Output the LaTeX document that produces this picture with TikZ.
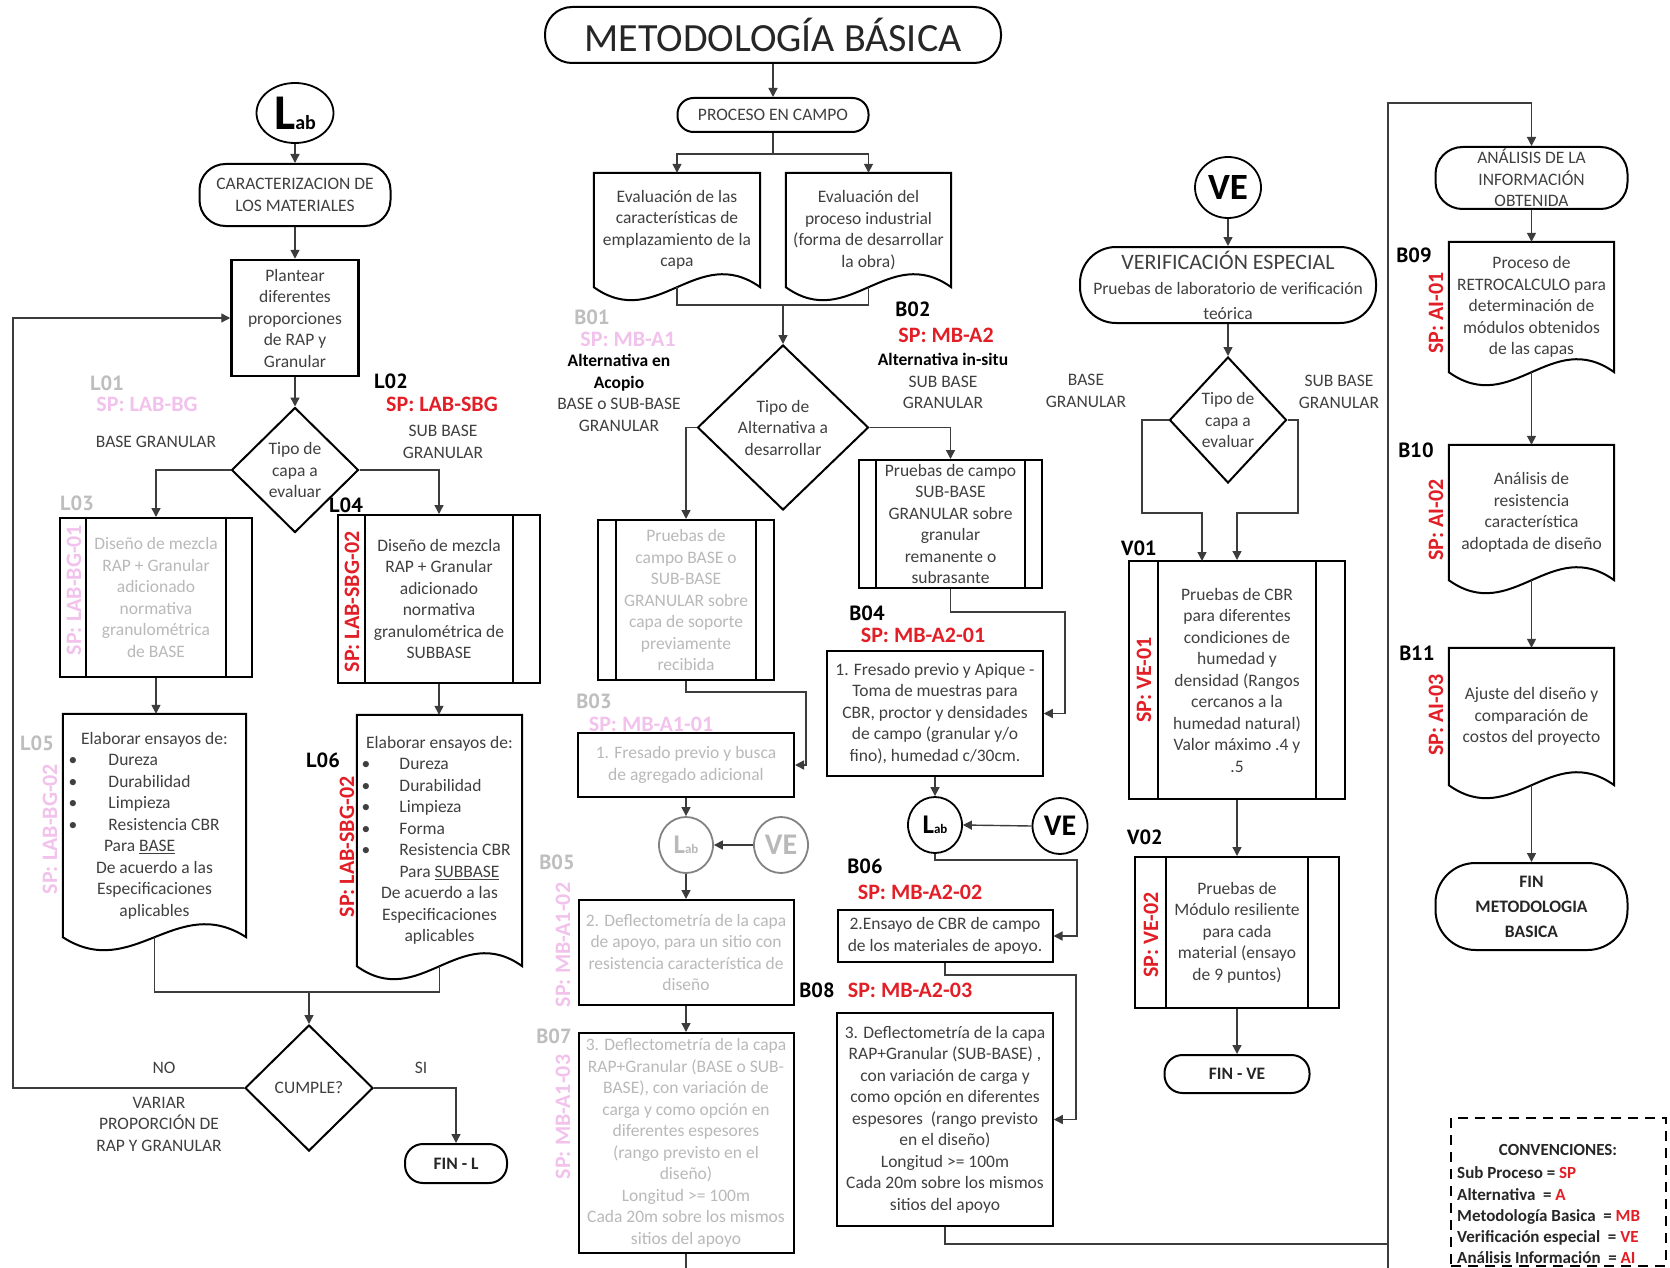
\documentclass[tikz,border=0pt]{standalone}
\usepackage{fontspec}
\setmainfont{Carlito}
\newfontfamily\codefont{PT Sans}
\usetikzlibrary{shapes.geometric,arrows.meta,calc}
\definecolor{textc}{RGB}{64,64,64}
\definecolor{lgtext}{RGB}{185,185,185}
\definecolor{codegray}{RGB}{190,190,190}
\definecolor{pinksp}{RGB}{242,194,236}
\definecolor{redsp}{RGB}{226,30,38}
\definecolor{linec}{RGB}{60,60,60}
\definecolor{circgray}{RGB}{130,130,130}
\newcommand\bodyfont{\fontsize{17.5}{21.5}\selectfont}
\newcommand\spfont{\fontsize{22}{24}\selectfont\bfseries}
\newcommand\cdfont{\codefont\fontsize{20.5}{22}\selectfont\bfseries}
\newcommand\bitem[3]{\hspace*{#1}\makebox[#2][l]{\textbullet}#3\par}
\newcommand\labtext[2]{{\fontsize{#1}{#1}\selectfont\bfseries L}{\fontsize{#2}{#2}\selectfont\bfseries ab}}

\tikzset{
  shapeline/.style={draw=black, line width=2pt},
  box/.style={rectangle, shapeline, inner sep=0pt, align=center, font=\bodyfont, text=textc},
  stadium/.style={box, rounded corners=#1},
  decision/.style={diamond, shapeline, inner sep=0pt, aspect=1, align=center, font=\bodyfont, text=textc},
  conncirc/.style={ellipse, draw=black, line width=1.8pt, inner sep=0pt, text=black},
  subproc/.style={box, append after command={\pgfextra{\draw[shapeline]
      ([xshift=#1]\tikzlastnode.north west) -- ([xshift=#1]\tikzlastnode.south west)
      ([xshift=-#1]\tikzlastnode.north east) -- ([xshift=-#1]\tikzlastnode.south east);}}},
  subproc/.default=27pt,
  docbox/.style={rectangle, inner sep=0pt, align=center, font=\bodyfont, text=textc,
    append after command={\pgfextra{\draw[shapeline]
      (\tikzlastnode.south west) -- (\tikzlastnode.north west) -- (\tikzlastnode.north east) -- (\tikzlastnode.south east)
      .. controls ($(\tikzlastnode.south west)!0.62!(\tikzlastnode.south east)+(0,-45)$)
      and ($(\tikzlastnode.south west)!0.38!(\tikzlastnode.south east)+(0,45)$)
      .. (\tikzlastnode.south west) -- cycle;}}},
  arr/.style={draw=linec, line width=1.4pt, -{Triangle[length=9pt,width=9pt]}},
  ln/.style={draw=linec, line width=1.4pt},
  code/.style={font=\cdfont, inner sep=0pt},
  sptag/.style={font=\spfont, inner sep=0pt},
  lbl/.style={font=\bodyfont, text=textc, align=center, inner sep=0pt},
}

\begin{document}
\begin{tikzpicture}[x=1pt,y=-1pt]
\useasboundingbox (0,0) rectangle (1670,1268);
\fill[white] (0,0) rectangle (1670,1268);

% ================= LEFT COLUMN =================
\node[conncirc, minimum width=77pt, minimum height=60pt] (lab1) at (295,113) {\labtext{50}{20}};
\node[stadium=26pt, minimum width=191pt, minimum height=62pt] (cara) at (295,195) {CARACTERIZACION DE\\LOS MATERIALES};
\node[box, line width=2.5pt, minimum width=127pt, minimum height=116pt] (plant) at (295,318) {Plantear\\diferentes\\proporciones\\de RAP y\\Granular};
\node[decision, minimum width=127pt, minimum height=125pt] (tipo1) at (295,470) {Tipo de\\capa a\\evaluar};
\node[subproc=27pt, minimum width=192pt, minimum height=159pt, text=lgtext] (l03) at (156,597.5) {Diseño de mezcla\\RAP + Granular\\adicionado\\normativa\\granulométrica\\de BASE};
\node[subproc=28pt, minimum width=202pt, minimum height=168pt] (l04) at (439,599) {Diseño de mezcla\\RAP + Granular\\adicionado\\normativa\\granulométrica de\\SUBBASE};
\node[docbox, minimum width=183pt, minimum height=223pt] (l05) at (154.5,825.5) {\begin{minipage}{177pt}
{\centering Elaborar ensayos de:\par}
\raggedright
\bitem{2.5pt}{40pt}{Dureza}
\bitem{2.5pt}{40pt}{Durabilidad}
\bitem{2.5pt}{40pt}{Limpieza}
\bitem{2.5pt}{40pt}{Resistencia CBR}
\hspace*{38pt}Para \underline{BASE}\par
\centering De acuerdo a las\par Especificaciones\par aplicables\par
\end{minipage}};
\node[docbox, minimum width=165pt, minimum height=251pt] (l06) at (439.5,840.5) {\begin{minipage}{161pt}
{\centering Elaborar ensayos de:\par}
\raggedright
\bitem{2.5pt}{38pt}{Dureza}
\bitem{2.5pt}{38pt}{Durabilidad}
\bitem{2.5pt}{38pt}{Limpieza}
\bitem{2.5pt}{38pt}{Forma}
\bitem{2.5pt}{38pt}{Resistencia CBR}
\hspace*{40.5pt}Para \underline{SUBBASE}\par
\centering De acuerdo a las\par Especificaciones\par aplicables\par
\end{minipage}};
\coordinate (jL) at (309,992);
\node[decision, minimum width=128pt, minimum height=126pt] (cumple) at (309,1088) {CUMPLE?};
\node[stadium=18pt, minimum width=102pt, minimum height=39pt, font=\bodyfont\bfseries, text=black!85] (finl) at (456,1163.5) {FIN - L};
\coordinate (loopc) at (13,318);

\node[code, text=codegray] (tL01) at (107,383) {L01};
\node[sptag, text=pinksp] (sLABBG) at (147,404) {SP: LAB-BG};
\node[code] (tL02) at (391,381) {L02};
\node[sptag, text=redsp] (sLABSBG) at (442,404) {SP: LAB-SBG};
\node[lbl] (tBG1) at (156,442) {BASE GRANULAR};
\node[lbl] (tSBG1) at (443,442) {SUB BASE\\GRANULAR};
\node[code, text=codegray] (tL03) at (77,503) {L03};
\node[code] (tL04) at (346,505) {L04};
\node[code, text=codegray] (tL05) at (37,743) {L05};
\node[code] (tL06) at (323,760) {L06};
\node[sptag, text=pinksp, rotate=90] (sL03) at (74,590) {SP: LAB-BG-01};
\node[sptag, text=redsp, rotate=90] (sL04) at (352,602) {SP: LAB-SBG-02};
\node[sptag, text=pinksp, rotate=90] (sL05) at (50,829) {SP: LAB-BG-02};
\node[sptag, text=redsp, rotate=90] (sL06) at (347,847) {SP: LAB-SBG-02};
\node[lbl] (tNO) at (164,1068) {NO};
\node[lbl] (tSI) at (421,1068) {SI};
\node[lbl] (tvar) at (159,1124) {VARIAR\\PROPORCIÓN DE\\RAP Y GRANULAR};

\draw[arr] (lab1.south) -- (cara.north);
\draw[arr] (cara.south) -- (plant.north);
\draw[arr] (plant.south) -- (tipo1.north);
\draw[arr] (tipo1.west) -| (l03.north);
\draw[arr] (tipo1.east) -| (l04.north);
\draw[arr] (l03.south) -- (l03.south |- l05.north);
\draw[arr] (l04.south) -- (l04.south |- l06.north);
\draw[ln] (l05.south) |- (jL) -| (l06.south);
\draw[arr] (jL) -- (cumple.north);
\draw[arr] (cumple.west) -| (loopc) |- (plant.west);
\draw[arr] (cumple.east) -| (finl.north);

% ================= MIDDLE COLUMN =================
\node[stadium=27pt, minimum width=456pt, minimum height=56pt, font=\fontsize{40}{44}\selectfont, text=black!85] (title) at (773,35) {METODOLOGÍA BÁSICA};
\node[stadium=16pt, minimum width=191pt, minimum height=34pt] (proc) at (773,115) {PROCESO EN CAMPO};
\coordinate (split) at (773,154);
\node[docbox, minimum width=166pt, minimum height=114pt] (dev1) at (677,230) {Evaluación de las\\características de\\emplazamiento de la\\capa};
\node[docbox, minimum width=165pt, minimum height=114pt] (dev2) at (868.5,230) {Evaluación del\\proceso industrial\\(forma de desarrollar\\la obra)};
\coordinate (jM) at (783,305);
\node[decision, minimum width=171pt, minimum height=165pt] (tipo2) at (783,427.5) {Tipo de\\Alternativa a\\desarrollar};
\node[subproc=19pt, minimum width=176pt, minimum height=160pt, text=lgtext] (b03sp) at (686,600) {Pruebas de\\campo BASE o\\SUB-BASE\\GRANULAR sobre\\capa de soporte\\previamente\\recibida};
\node[subproc=18pt, minimum width=183pt, minimum height=128pt] (b02sp) at (950.5,524) {Pruebas de campo\\SUB-BASE\\GRANULAR sobre\\granular\\remanente o\\subrasante};
\coordinate (cb03) at (806,692);
\node[box, minimum width=216pt, minimum height=64pt, text=lgtext] (b03) at (686,765) {1. Fresado previo y busca\\de agregado adicional};
\coordinate (cb02) at (1065,612);
\node[box, minimum width=215.5pt, minimum height=125pt] (b04) at (935,713.5) {1. Fresado previo y Apique -\\Toma de muestras para\\CBR, proctor y densidades\\de campo (granular y/o\\fino), humedad c/30cm.};
\node[conncirc, draw=circgray, text=lgtext, minimum width=54pt, minimum height=56pt] (labL) at (686,845) {\labtext{27}{13}};
\node[conncirc, draw=circgray, text=lgtext, minimum width=54pt, minimum height=56pt] (veL) at (781,845) {\fontsize{30}{30}\selectfont\bfseries VE};
\node[box, minimum width=215pt, minimum height=105pt, text=lgtext] (b05) at (686,952.5) {2. Deflectometría de la capa\\de apoyo, para un sitio con\\resistencia característica de\\diseño};
\node[box, minimum width=215pt, minimum height=220pt, text=lgtext] (b07) at (686,1143) {3. Deflectometría de la capa\\RAP+Granular (BASE o SUB-\\BASE), con variación de\\carga y como opción en\\diferentes espesores\\(rango previsto en el\\diseño)\\Longitud >= 100m\\Cada 20m sobre los mismos\\sitios del apoyo};
\coordinate (b07end) at (686,1268);
\node[conncirc, minimum width=54pt, minimum height=56pt] (labR) at (935,825) {\labtext{27}{13}};
\node[conncirc, minimum width=55pt, minimum height=56pt] (veR) at (1060,826) {\fontsize{30}{30}\selectfont\bfseries VE};
\coordinate (cl) at (1077,860);
\node[box, minimum width=215pt, minimum height=52pt] (b06) at (945,936) {2.Ensayo de CBR de campo\\de los materiales de apoyo.};
\coordinate (c6) at (1076,975);
\node[box, minimum width=215.5pt, minimum height=213pt] (b08) at (945,1119.5) {3. Deflectometría de la capa\\RAP+Granular (SUB-BASE) ,\\con variación de carga y\\como opción en diferentes\\espesores~ (rango previsto\\en el diseño)\\Longitud >= 100m\\Cada 20m sobre los mismos\\sitios del apoyo};
\coordinate (cR1) at (1388,1244);
\coordinate (cR2) at (1388,103);
\coordinate (cRb) at (1388,1268);

\node[code, text=codegray] (tB01) at (592,317) {B01};
\node[sptag, text=pinksp] (sMBA1) at (628,339) {SP: MB-A1};
\node[lbl] (tAlt1) at (619,393) {\textcolor{black}{\textbf{Alternativa en}}\\\textcolor{black}{\textbf{Acopio}}\\BASE o SUB-BASE\\GRANULAR};
\node[code] (tB02) at (913,309) {B02};
\node[sptag, text=redsp] (sMBA2) at (946,335) {SP: MB-A2};
\node[lbl] (tAlt2) at (943,381) {\textcolor{black}{\textbf{Alternativa in-situ}}\\SUB BASE\\GRANULAR};
\node[code, text=codegray] (tB03) at (594,701) {B03};
\node[sptag, text=pinksp] (sMBA101) at (651,724) {SP: MB-A1-01};
\node[code] (tB04) at (867,613) {B04};
\node[sptag, text=redsp] (sMBA201) at (923,635) {SP: MB-A2-01};
\node[code, text=codegray] (tB05) at (557,862) {B05};
\node[sptag, text=pinksp, rotate=90] (sMBA102) at (563,945) {SP: MB-A1-02};
\node[code] (tB06) at (865,866) {B06};
\node[sptag, text=redsp] (sMBA202) at (920,892) {SP: MB-A2-02};
\node[code, text=codegray] (tB07) at (554,1036) {B07};
\node[sptag, text=pinksp, rotate=90] (sMBA103) at (563,1117) {SP: MB-A1-03};
\node[code] (tB08) at (817,990) {B08};
\node[sptag, text=redsp] (sMBA203) at (910,990) {SP: MB-A2-03};

% ================= RIGHT COLUMNS =================
\node[conncirc, minimum width=66pt, minimum height=61pt] (veB) at (1228,187.5) {\fontsize{37}{37}\selectfont\bfseries VE};
\node[stadium=36pt, minimum width=296pt, minimum height=76pt, font=\fontsize{17.5}{25}\selectfont] (verif) at (1228,285) {{\fontsize{22}{25}\selectfont VERIFICACIÓN ESPECIAL}\\Pruebas de laboratorio de verificación\\teórica};
\node[decision, minimum width=117pt, minimum height=126pt] (tipo3) at (1228,420) {Tipo de\\capa a\\evaluar};
\coordinate (bl1) at (1142,513);
\coordinate (br1) at (1298,513);
\coordinate (v01a) at (1202,561);
\node[subproc=30pt, minimum width=216pt, minimum height=238pt] (v01) at (1237,680) {Pruebas de CBR\\para diferentes\\condiciones de\\humedad y\\densidad (Rangos\\cercanos a la\\humedad natural)\\Valor máximo .4 y\\.5};
\node[subproc=32pt, minimum width=204pt, minimum height=151pt] (v02) at (1237,932.5) {Pruebas de\\Módulo resiliente\\para cada\\material (ensayo\\de 9 puntos)};
\node[stadium=18pt, minimum width=145pt, minimum height=38pt, font=\bodyfont\bfseries, text=black!85] (finve) at (1237,1074) {FIN - VE};

\node[stadium=27pt, minimum width=192pt, minimum height=62pt] (anal) at (1531.5,178) {ANÁLISIS DE LA\\INFORMACIÓN\\OBTENIDA};
\node[docbox, minimum width=165pt, minimum height=130pt] (b09) at (1531.5,307) {Proceso de\\RETROCALCULO para\\determinación de\\módulos obtenidos\\de las capas};
\node[docbox, minimum width=165pt, minimum height=135pt] (b10) at (1531.5,512.5) {Análisis de\\resistencia\\característica\\adoptada de diseño};
\node[docbox, minimum width=165pt, minimum height=137pt] (b11) at (1531.5,716.5) {Ajuste del diseño y\\comparación de\\costos del proyecto};
\node[stadium=40pt, minimum width=192pt, minimum height=87pt, font=\fontsize{17.5}{25}\selectfont\bfseries, text=black!85] (finmb) at (1531.5,906.5) {FIN\\METODOLOGIA\\BASICA};

\node[lbl] (tBG3) at (1086,391) {BASE\\GRANULAR};
\node[lbl] (tSBG3) at (1339,392) {SUB BASE\\GRANULAR};
\node[code] (tV01) at (1139,548) {V01};
\node[sptag, text=redsp, rotate=90] (sVE01) at (1144,680) {SP: VE-01};
\node[code] (tV02) at (1145,837) {V02};
\node[sptag, text=redsp, rotate=90] (sVE02) at (1151,935) {SP: VE-02};
\node[code] (tB09) at (1414,255) {B09};
\node[sptag, text=redsp, rotate=90] (sAI01) at (1436,313) {SP: AI-01};
\node[code] (tB10) at (1416,450) {B10};
\node[sptag, text=redsp, rotate=90] (sAI02) at (1436,520) {SP: AI-02};
\node[code] (tB11) at (1417,653) {B11};
\node[sptag, text=redsp, rotate=90] (sAI03) at (1436,715) {SP: AI-03};

% ---- middle connectors ----
\draw[arr] (title.south) -- (proc.north);
\draw[ln] (proc.south) -- (split);
\draw[arr] (split) -| (dev1.north);
\draw[arr] (split) -| (dev2.north);
\draw[ln] (dev1.south) |- (jM);
\draw[ln] (dev2.south) |- (jM);
\draw[arr] (jM) -- (tipo2.north);
\draw[arr] (tipo2.west) -| (b03sp.north);
\draw[arr] (tipo2.east) -| (b02sp.north);
\draw[arr] (b03sp.south) |- (cb03) |- (b03.east);
\draw[arr] (b02sp.south) |- (cb02) |- (b04.east);
\draw[arr] (b03.south) -- (labL.north);
\draw[arr] (veL.west) -- (labL.east);
\draw[arr] (labL.south) -- (b05.north);
\draw[arr] (b05.south) -- (b07.north);
\draw[ln] (b07.south) -- (b07end);
\draw[arr] (b04.south) -- (labR.north);
\draw[arr] (veR.west) -- (labR.east);
\draw[arr] (labR.south) |- (cl) |- (b06.east);
\draw[arr] (b06.south) |- (c6) |- (b08.east);
\draw[arr] (b08.south) |- (cR1) |- (cR2) -| (anal.north);
\draw[ln] (cRb) -- (cR1);

% ---- right connectors ----
\draw[arr] (veB.south) -- (verif.north);
\draw[arr] (verif.south) -- (tipo3.north);
\draw[arr] (tipo3.west) -| (bl1) -| (v01a);
\draw[arr] (tipo3.east) -| (br1) -| (v01.north);
\draw[arr] (v01.south) -- (v02.north);
\draw[arr] (v02.south) -- (finve.north);
\draw[arr] (anal.south) -- (b09.north);
\draw[arr] (b09.south) -- (b10.north);
\draw[arr] (b10.south) -- (b11.north);
\draw[arr] (b11.south) -- (finmb.north);

% ================= CONVENCIONES =================
\node[rectangle, draw=black, line width=2pt, dash pattern=on 10pt off 7pt, minimum width=215pt, minimum height=148pt] (conv) at (1558.5,1192) {};
\node[font=\fontsize{17}{21.25}\selectfont\bfseries, text=black!85, inner sep=0pt] (convt) at (1558,1150) {CONVENCIONES:};
\node[font=\fontsize{17}{21.25}\selectfont\bfseries, text=black!85, align=left, anchor=west, inner sep=0pt] (convb) at (1457,1215.5) {Sub Proceso = \textcolor{redsp}{SP}\\Alternativa~ = \textcolor{redsp}{A}\\Metodología Basica~ = \textcolor{redsp}{MB}\\Verificación especial~ = \textcolor{redsp}{VE}\\Análisis Información~ = \textcolor{redsp}{AI}};
\end{tikzpicture}
\end{document}
